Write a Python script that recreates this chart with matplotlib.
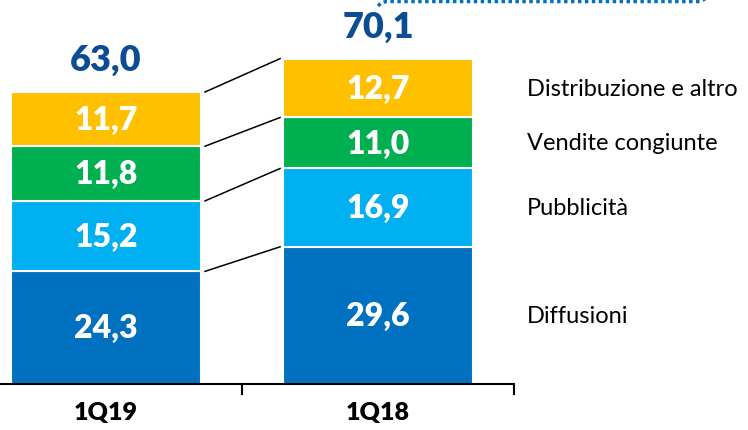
import numpy as np
import matplotlib.pyplot as plt
from matplotlib.lines import Line2D

# dati
periodi = ['1Q19', '1Q18']
voci = ['Diffusioni', 'Pubblicità', 'Vendite congiunte', 'Distribuzione e altro']
diffusioni = [24.3, 29.6]
pubblicita = [15.2, 16.9]
vendite = [11.8, 11.0]
distribuzione = [11.7, 12.7]
totali = [63.0, 70.1]

colori = ['#0070C0', '#00B0F0', '#00B050', '#FFC000']
serie = [diffusioni, pubblicita, vendite, distribuzione]

plt.rcParams['font.family'] = ['Lato', 'DejaVu Sans']

fig = plt.figure(figsize=(7.48, 4.31), dpi=100)
ax = fig.add_axes([-30 / 748, 46 / 431, 544 / 748, 385 / 431])
ax.set_xlim(-0.5, 1.5)
ax.set_ylim(0, 385 / 4.635)

x = np.arange(len(periodi))
larghezza = 0.70
base = np.zeros(len(periodi))
confini = []
for vals, col in zip(serie, colori):
    vals = np.array(vals)
    ax.bar(x, vals, larghezza, bottom=base, color=col, edgecolor='white', linewidth=1.5)
    for xi, b, v in zip(x, base, vals):
        ax.text(xi, b + v / 2, f'{v:.1f}'.replace('.', ','), ha='center', va='center',
                color='white', fontsize=23, fontweight='heavy')
    base = base + vals
    confini.append(base.copy())

# linee di collegamento tra le barre
for c in confini:
    ax.plot([0.364, 0.64], [c[0], c[1]], color='black', lw=1.1, clip_on=False)

# totali
for xi, t in zip(x, totali):
    ax.annotate(f'{t:.1f}'.replace('.', ','), (xi, t), xytext=(0, 12), textcoords='offset points',
                ha='center', va='bottom', color='#0B4C92', fontsize=26, fontweight='heavy')

# etichette a destra
base = 0
for nome, vals in zip(voci, serie):
    ax.text(1.548, base + vals[1] / 2, nome, ha='left', va='center', fontsize=17,
            color='black', clip_on=False)
    base += vals[1]

# assi
for s in ['top', 'right', 'left']:
    ax.spines[s].set_visible(False)
ax.spines['bottom'].set_linewidth(1.5)
ax.set_yticks([])
ax.set_xticks(x)
ax.set_xticklabels(periodi, fontsize=18, fontweight='heavy')
ax.tick_params(axis='x', which='major', length=0, pad=12)
ax.set_xticks([0.5, 1.5], minor=True)
ax.tick_params(axis='x', which='minor', length=8, width=1.5, direction='out')

# freccia tratteggiata in alto (tagliata)
px = [378, 381, 386, 700, 703, 705]
py = [7, 4, 2.5, 2.5, 1, 0]
fig.add_artist(Line2D([p / 748 for p in px], [1 - p / 431 for p in py],
                      transform=fig.transFigure, color='#0070C0', lw=2.5,
                      linestyle=(0, (1, 1))))

fig.savefig('out.png', dpi=100)
